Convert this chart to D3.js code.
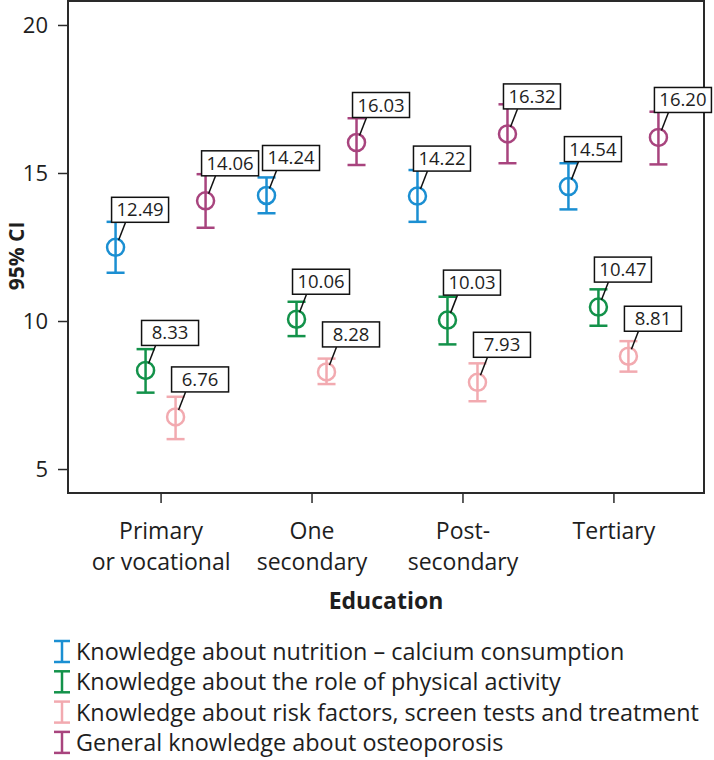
<!DOCTYPE html>
<html>
<head>
<meta charset="utf-8">
<script src="https://cdn.jsdelivr.net/npm/d3@7"></script>
<style>
  html, body { margin: 0; padding: 0; background: #fff; }
  svg { display: block; font-family: "Open Sans", Lato, sans-serif; }
</style>
</head>
<body>
<svg id="chart" width="714" height="760"></svg>
<script>
// ---- data ----
const categories = ["Primary\nor vocational", "One\nsecondary", "Post-\nsecondary", "Tertiary"];
const seriesNames = [
  "Knowledge about nutrition \u2013 calcium consumption",
  "Knowledge about the role of physical activity",
  "Knowledge about risk factors, screen tests and treatment",
  "General knowledge about osteoporosis"
];
const seriesColors = ["#1b8fd2", "#13924a", "#f2aab0", "#a8447e"];

const nutritionMean = [12.49, 14.24, 14.22, 14.54];
const nutritionLow  = [11.63, 13.64, 13.35, 13.77];
const nutritionHigh = [13.35, 14.85, 15.10, 15.33];

const activityMean = [8.33, 10.06, 10.03, 10.47];
const activityLow  = [7.58, 9.49, 9.21, 9.84];
const activityHigh = [9.05, 10.65, 10.82, 11.07];

const riskMean = [6.76, 8.28, 7.93, 8.81];
const riskLow  = [6.01, 7.87, 7.29, 8.29];
const riskHigh = [7.44, 8.73, 8.57, 9.32];

const generalMean = [14.06, 16.03, 16.32, 16.20];
const generalLow  = [13.15, 15.27, 15.33, 15.29];
const generalHigh = [14.96, 16.85, 17.32, 17.07];

const yTicks = [5, 10, 15, 20];
const yTitle = "95% CI";
const xTitle = "Education";

// ---- build ----
const means = [nutritionMean, activityMean, riskMean, generalMean];
const lows = [nutritionLow, activityLow, riskLow, generalLow];
const highs = [nutritionHigh, activityHigh, riskHigh, generalHigh];

const points = [];
seriesNames.forEach((s, si) => {
  categories.forEach((c, ci) => {
    points.push({ series: s, si, cat: c, mean: means[si][ci], low: lows[si][ci], high: highs[si][ci] });
  });
});

const plot = { left: 68, right: 704, top: 1, bottom: 493 };
const svg = d3.select("#chart");
const textColor = "#1e1e1e";
const font = "'Open Sans', Lato, sans-serif";

const x = d3.scalePoint().domain(categories).range([70, plot.right]).padding(0.6);
const xs = d3.scalePoint().domain(seriesNames).range([-45, 45]);
const y = d3.scaleLinear().domain([4.19, 20.81]).range([plot.bottom, plot.top]);
const color = d3.scaleOrdinal().domain(seriesNames).range(seriesColors);

// frame
svg.append("rect")
  .attr("x", plot.left).attr("y", plot.top)
  .attr("width", plot.right - plot.left).attr("height", plot.bottom - plot.top)
  .attr("fill", "none").attr("stroke", "#2a2a2a").attr("stroke-width", 2);

// y axis
const yAxis = svg.append("g")
  .attr("transform", `translate(${plot.left},0)`)
  .call(d3.axisLeft(y).tickValues(yTicks).tickSize(10).tickPadding(10).tickFormat(d3.format("d")));
yAxis.select(".domain").remove();
yAxis.selectAll(".tick line").attr("stroke", "#2a2a2a").attr("stroke-width", 1.5);
yAxis.selectAll(".tick text").attr("font-size", 22).attr("fill", textColor).attr("font-family", font);

// x axis
const xAxis = svg.append("g")
  .attr("transform", `translate(0,${plot.bottom})`)
  .call(d3.axisBottom(x).tickSize(10).tickFormat(""));
xAxis.select(".domain").remove();
xAxis.selectAll(".tick line").attr("stroke", "#2a2a2a").attr("stroke-width", 1.5);
xAxis.selectAll(".tick").each(function (d) {
  const lines = d.split("\n");
  const t = d3.select(this).append("text")
    .attr("text-anchor", "middle")
    .attr("font-size", 23)
    .attr("fill", textColor)
    .attr("font-family", font);
  lines.forEach((l, i) => {
    t.append("tspan").attr("x", 0).attr("y", 46 + i * 31).text(l);
  });
});

// axis titles
svg.append("text")
  .attr("transform", `translate(24,256) rotate(-90)`)
  .attr("text-anchor", "middle")
  .attr("font-size", 21).attr("font-weight", "bold").attr("fill", textColor)
  .text(yTitle);
svg.append("text")
  .attr("x", (plot.left + plot.right) / 2).attr("y", 609)
  .attr("text-anchor", "middle")
  .attr("font-size", 23).attr("font-weight", "bold").attr("fill", textColor)
  .text(xTitle);

// error bars
const px = d => x(d.cat) + xs(d.series);
const capHalf = 9;
const g = svg.append("g");
const bars = g.selectAll("g.bar").data(points).join("g").attr("class", "bar")
  .attr("stroke", d => color(d.series)).attr("stroke-width", 2.5).attr("fill", "none");
bars.append("line").attr("x1", px).attr("x2", px).attr("y1", d => y(d.low)).attr("y2", d => y(d.high));
bars.append("line").attr("x1", d => px(d) - capHalf).attr("x2", d => px(d) + capHalf).attr("y1", d => y(d.low)).attr("y2", d => y(d.low));
bars.append("line").attr("x1", d => px(d) - capHalf).attr("x2", d => px(d) + capHalf).attr("y1", d => y(d.high)).attr("y2", d => y(d.high));
bars.append("circle").attr("cx", px).attr("cy", d => y(d.mean)).attr("r", 8.5).attr("fill", "none");

// labels
const bw = 57, bh = 25;
const labels = svg.append("g").selectAll("g.lab").data(points).join("g").attr("class", "lab");
labels.append("line")
  .attr("x1", d => px(d) + 3).attr("y1", d => y(d.mean) - 7)
  .attr("x2", d => px(d) + 10).attr("y2", d => y(d.mean) - 25)
  .attr("stroke", "#111").attr("stroke-width", 1.5);
labels.append("rect")
  .attr("x", d => px(d) - 4).attr("y", d => y(d.mean) - 25 - bh)
  .attr("width", bw).attr("height", bh)
  .attr("fill", "#fff").attr("stroke", "#111").attr("stroke-width", 1.5);
labels.append("text")
  .attr("x", d => px(d) - 4 + bw / 2).attr("y", d => y(d.mean) - 25 - bh / 2 + 6.5)
  .attr("text-anchor", "middle")
  .attr("font-size", 18.5).attr("fill", textColor)
  .text(d => d.mean.toFixed(2));

// legend
const leg = svg.append("g").selectAll("g.leg").data(seriesNames).join("g").attr("class", "leg")
  .attr("transform", (d, i) => `translate(62,${651 + i * 30.3})`);
leg.append("line").attr("x1", 0).attr("x2", 0).attr("y1", -10).attr("y2", 11)
  .attr("stroke", d => color(d)).attr("stroke-width", 2.5);
leg.append("line").attr("x1", -8).attr("x2", 8).attr("y1", -10).attr("y2", -10)
  .attr("stroke", d => color(d)).attr("stroke-width", 2.5);
leg.append("line").attr("x1", -8).attr("x2", 8).attr("y1", 11).attr("y2", 11)
  .attr("stroke", d => color(d)).attr("stroke-width", 2.5);
leg.append("text").attr("x", 14).attr("y", 9)
  .attr("font-size", 23.4).attr("fill", textColor)
  .text(d => d);
</script>
</body>
</html>
